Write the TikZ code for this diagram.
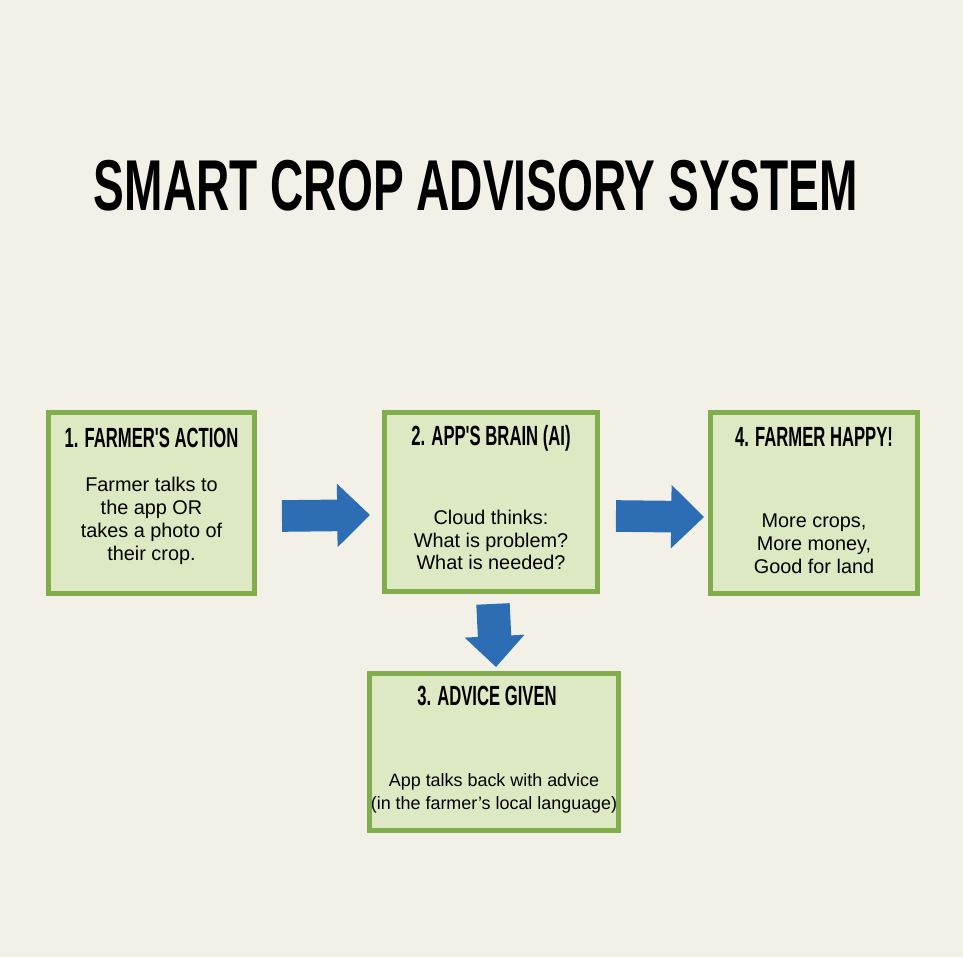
\documentclass[tikz,border=0pt]{standalone}
\usepackage{fontspec}
\setmainfont{Liberation Sans}
\newfontfamily\headfont[FakeStretch=0.6]{Liberation Sans}
\newfontfamily\bannerfont[FakeStretch=0.64]{Liberation Sans}
\usetikzlibrary{arrows.meta}

\definecolor{paper}{HTML}{F3F1E7}
\definecolor{leaf}{HTML}{DDE9C3}
\definecolor{leafedge}{HTML}{82AD4C}
\definecolor{flow}{HTML}{2C6DB3}

\begin{document}
\begin{tikzpicture}[x=0.02cm,y=-0.02cm,
  box/.style={draw=leafedge,fill=leaf,line width=2.8pt,inner sep=0pt},
  boxtitle/.style={font=\headfont\bfseries\fontsize{15.8}{18}\selectfont},
  boxtext/.style={align=center,font=\fontsize{11.3}{13}\selectfont},
  bigarrow/.style={draw=flow,line width=18pt,-{Triangle[length=18.7pt,width=35pt]}}]
\fill[paper] (0,0) rectangle (963,957);
\node[font=\bannerfont\bfseries\fontsize{41}{44}\selectfont] (title) at (476,186) {SMART CROP ADVISORY SYSTEM};
% the four steps
\node[box,minimum width=4.12cm,minimum height=3.62cm] (b1) at (151.5,503) {};
\node[box,minimum width=4.26cm,minimum height=3.58cm] (b2) at (491,502) {};
\node[box,minimum width=4.14cm,minimum height=3.62cm] (b4) at (814,503) {};
\node[box,minimum width=4.98cm,minimum height=3.14cm] (b3) at (494,752) {};
\node[boxtitle] (t1) at ([yshift=-0.56cm]b1.north) {1. FARMER'S ACTION};
\node[boxtitle] (t2) at ([yshift=-0.56cm]b2.north) {2. APP'S BRAIN (AI)};
\node[boxtitle] (t4) at ([yshift=-0.54cm]b4.north) {4. FARMER HAPPY!};
\node[boxtitle] (t3) at ([xshift=-0.14cm,yshift=-0.5cm]b3.north) {3. ADVICE GIVEN};
\node[boxtext] (x1) at ([yshift=-0.36cm]b1.center) {Farmer talks to\\the app OR\\takes a photo of\\their crop.};
\node[boxtext] (x2) at ([yshift=-0.76cm]b2.center) {Cloud thinks:\\What is problem?\\What is needed?};
\node[boxtext] (x4) at ([yshift=-0.82cm]b4.center) {More crops,\\More money,\\Good for land};
\node[boxtext,font=\fontsize{10.2}{13}\selectfont] (x3) at ([yshift=-0.82cm]b3.center) {App talks back with advice\\(in the farmer's local language)};
% arrows
\draw[bigarrow] ([xshift=0.5cm,yshift=-0.26cm]b1.east) -- ([xshift=-0.24cm,yshift=-0.26cm]b2.west);
\draw[bigarrow] ([xshift=0.32cm,yshift=-0.28cm]b2.east) -- ([xshift=-0.08cm,yshift=-0.28cm]b4.west);
\draw[bigarrow,-{Triangle[length=17.6pt,width=33pt]},line width=19pt] ([xshift=0.04cm,yshift=-0.2cm]b2.south) -- ([xshift=0.04cm,yshift=0.08cm]b3.north);
\end{tikzpicture}
\end{document}
